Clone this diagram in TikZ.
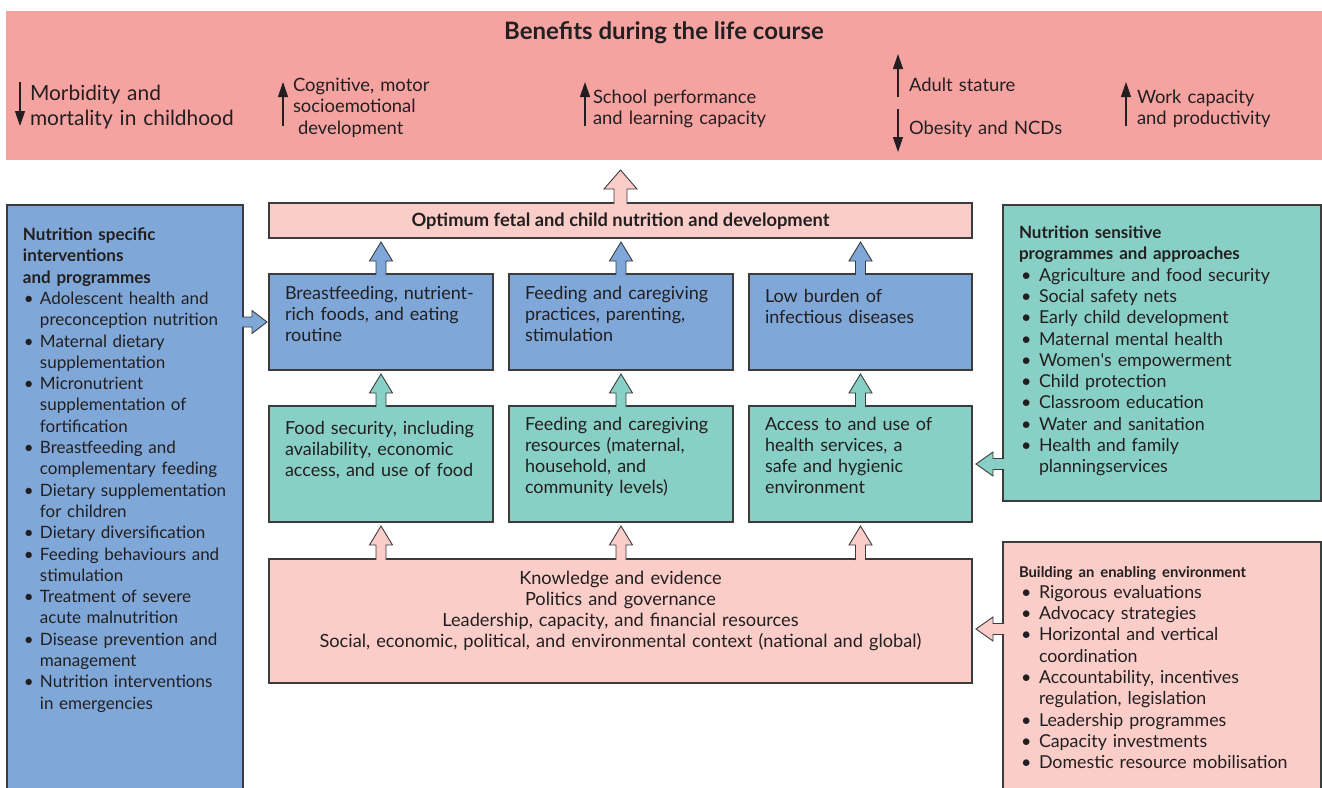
\documentclass[tikz,border=0pt]{standalone}
\usepackage{fontspec}
\setmainfont{Lato}
\usetikzlibrary{calc,arrows.meta}
\definecolor{bannerpink}{HTML}{F5A3A1}
\definecolor{lightpink}{HTML}{FACDC8}
\definecolor{boxblue}{HTML}{7FA7D8}
\definecolor{boxteal}{HTML}{88D0C5}
\definecolor{ink}{HTML}{231F20}
\definecolor{edge}{HTML}{3C3C3C}
% #1 fill, #2 lower anchor, #3 upper anchor, #4 half head width, #5 half shaft width, #6 gap
\newcommand\blkup[6]{%
  \filldraw[arr, fill=#1] let \p1=(#2), \p2=(#3) in
   (\x1-#5pt,\y1-1pt) -- (\x1-#5pt,\y2-#6pt-19pt) -- (\x1-#4pt,\y2-#6pt-19pt) -- (\x1,\y2-#6pt)
   -- (\x1+#4pt,\y2-#6pt-19pt) -- (\x1+#5pt,\y2-#6pt-19pt) -- (\x1+#5pt,\y1-1pt);}
% #1 fill, #2 start anchor, #3 target anchor, #4 half head, #5 half shaft, #6 gap, #7 head length
\newcommand\blkright[7]{%
  \filldraw[arr, fill=#1] let \p1=(#2), \p2=(#3) in
   (\x1-1pt,\y1+#5pt) -- (\x2-#6pt-#7pt,\y1+#5pt) -- (\x2-#6pt-#7pt,\y1+#4pt) -- (\x2-#6pt,\y1)
   -- (\x2-#6pt-#7pt,\y1-#4pt) -- (\x2-#6pt-#7pt,\y1-#5pt) -- (\x1-1pt,\y1-#5pt);}
\newcommand\blkleft[7]{%
  \filldraw[arr, fill=#1] let \p1=(#2), \p2=(#3) in
   (\x1+1pt,\y1+#5pt) -- (\x2+#6pt+#7pt,\y1+#5pt) -- (\x2+#6pt+#7pt,\y1+#4pt) -- (\x2+#6pt,\y1)
   -- (\x2+#6pt+#7pt,\y1-#4pt) -- (\x2+#6pt+#7pt,\y1-#5pt) -- (\x1+1pt,\y1-#5pt);}
\newlength\itind \setlength\itind{17pt}
\newlength\bulind \setlength\bulind{1pt}
\newcommand\litem[1]{\par\hangindent=\itind\hangafter=1\noindent\makebox[\itind][l]{\hspace{\bulind}\textbullet}#1}
\begin{document}
\begin{tikzpicture}[x=1pt,y=-1pt,
  every node/.style={text=ink, inner sep=0pt, outer sep=0pt},
  font=\fontsize{17}{21.3}\selectfont,
  panel/.style={draw=edge, line width=1.1pt, inner sep=0pt, outer sep=0pt},
  arr/.style={draw=edge, line width=0.9pt, line join=miter},
  txt/.style={anchor=base west, align=left, text width=#1},
  benarrow/.style={draw=ink, line width=1.2pt, -{Triangle[length=15pt,width=10pt]}},
  bigfont/.style={font=\fontsize{20.9}{25}\selectfont},
  midfont/.style={font=\fontsize{18.4}{21.5}\selectfont},
  boxfont/.style={font=\fontsize{18}{21.2}\selectfont},
  sidefont/.style={font=\fontsize{17.8}{21.3}\selectfont}]
\useasboundingbox (0,0) rectangle (1322,787);

% banner
\node[fill=bannerpink, minimum width=1316pt, minimum height=149pt] (ban) at (664,85.5) {};
\node[font=\bfseries\fontsize{24}{28}\selectfont] (title) at (664,33) {Benefits during the life course};

\coordinate (a1s) at (20,82);  \coordinate (a1e) at (20,126);
\coordinate (a2s) at (283,126); \coordinate (a2e) at (283,82);
\coordinate (a3s) at (585,126); \coordinate (a3e) at (585,82);
\coordinate (a4s) at (898,97);  \coordinate (a4e) at (898,54);
\coordinate (a5s) at (898,109); \coordinate (a5e) at (898,152);
\coordinate (a6s) at (1126,126); \coordinate (a6e) at (1126,82);
\foreach \s/\e in {a1s/a1e,a2s/a2e,a3s/a3e,a4s/a4e,a5s/a5e,a6s/a6e}
  \draw[benarrow] (\s) -- (\e);

\node[txt=230pt, bigfont] (ben1) at (30,100.5) {Morbidity and\\mortality in childhood};
\node[txt=200pt, midfont] (ben2) at (293,91) {Cognitive, motor\\socioemotional\\\hspace*{5pt}development};
\node[txt=220pt, midfont] (ben3) at (593,103) {School performance\\and learning capacity};
\node[txt=200pt, midfont] (ben4) at (909,91) {Adult stature};
\node[txt=200pt, midfont] (ben5) at (909,134) {Obesity and NCDs};
\node[txt=200pt, midfont] (ben6) at (1137,103) {Work capacity\\and productivity};

% central column
\node[panel, fill=lightpink, minimum width=703pt, minimum height=35pt] (opt) at (620.5,220.5) {};
\node[font=\bfseries\fontsize{18.3}{21}\selectfont] at ([yshift=-1pt]opt) {Optimum fetal and child nutrition and development};

\node[panel, fill=boxblue, minimum width=224pt, minimum height=96pt] (b1) at (381,322) {};
\node[panel, fill=boxblue, minimum width=224pt, minimum height=96pt] (b2) at (621,322) {};
\node[panel, fill=boxblue, minimum width=223pt, minimum height=96pt] (b3) at (860.5,322) {};
\node[panel, fill=boxteal, minimum width=224pt, minimum height=116pt] (t1) at (381,464) {};
\node[panel, fill=boxteal, minimum width=224pt, minimum height=116pt] (t2) at (621,464) {};
\node[panel, fill=boxteal, minimum width=223pt, minimum height=116pt] (t3) at (860.5,464) {};
\node[panel, fill=lightpink, minimum width=703pt, minimum height=124pt] (env) at (620.5,621) {};

\node[txt=205pt, boxfont] at (285,299.5) {Breastfeeding, nutrient-\\rich foods, and eating\\routine};
\node[txt=205pt, boxfont] at (525,299.5) {Feeding and caregiving\\practices, parenting,\\stimulation};
\node[txt=205pt, boxfont] at (765,302) {Low burden of\\infectious diseases};
\node[txt=205pt, boxfont] at (285,434) {Food security, including\\availability, economic\\access, and use of food};
\node[txt=205pt, boxfont] at (525,430) {Feeding and caregiving\\resources (maternal,\\household, and\\community levels)};
\node[txt=205pt, boxfont] at (765,430) {Access to and use of\\health services, a\\safe and hygienic\\environment};
\node[anchor=base, align=center, text width=700pt, font=\fontsize{18.2}{21.3}\selectfont] at (620.5,584) {Knowledge and evidence\\Politics and governance\\Leadership, capacity, and financial resources\\Social, economic, political, and environmental context (national and global)};

% side panels
\node[panel, fill=boxblue, minimum width=236pt, minimum height=600pt] (lp) at (125,505) {};
\node[panel, fill=boxteal, minimum width=318pt, minimum height=296pt] (rp1) at (1162,353) {};
\node[panel, fill=lightpink, minimum width=318pt, minimum height=262pt] (rp2) at (1162,673) {};

\node[txt=215pt] at (23,240.5) {{\bfseries Nutrition specific\\interventions\\and programmes\par}%
\litem{Adolescent health and\newline preconception nutrition}%
\litem{Maternal dietary\newline supplementation}%
\litem{Micronutrient\newline supplementation of\newline fortification}%
\litem{Breastfeeding and\newline complementary feeding}%
\litem{Dietary supplementation\newline for children}%
\litem{Dietary diversification}%
\litem{Feeding behaviours and\newline stimulation}%
\litem{Treatment of severe\newline acute malnutrition}%
\litem{Disease prevention and\newline management}%
\litem{Nutrition interventions\newline in emergencies}\par};

\node[txt=295pt, sidefont] at (1019,238.5) {\setlength\itind{20pt}\setlength\bulind{2pt}%
{\bfseries\fontsize{17}{21.3}\selectfont Nutrition sensitive\\programmes and approaches\par}%
\litem{Agriculture and food security}%
\litem{Social safety nets}%
\litem{Early child development}%
\litem{Maternal mental health}%
\litem{Women\textquotesingle s empowerment}%
\litem{Child protection}%
\litem{Classroom education}%
\litem{Water and sanitation}%
\litem{Health and family\newline planningservices}\par};

\node[txt=295pt, sidefont] at (1019,577) {\setlength\itind{20pt}\setlength\bulind{2pt}%
{\bfseries\fontsize{14.8}{17}\selectfont Building an enabling environment\par}%
\litem{Rigorous evaluations}%
\litem{Advocacy strategies}%
\litem{Horizontal and vertical\newline coordination}%
\litem{Accountability, incentives\newline regulation, legislation}%
\litem{Leadership programmes}%
\litem{Capacity investments}%
\litem{Domestic resource mobilisation}\par};

% block arrows
\blkup{lightpink}{opt.north}{ban.south}{16.5}{6.5}{10}
\foreach \lo/\hi in {b1/opt, b2/opt, b3/opt}
  {\blkup{boxblue}{\lo.north}{\hi.south}{11.5}{5}{4}}
\foreach \lo/\hi in {t1/b1, t2/b2, t3/b3}
  {\blkup{boxteal}{\lo.north}{\hi.south}{11.5}{5}{4}}
\foreach \hi in {t1, t2, t3}
  {\blkup{lightpink}{env.north -| \hi.south}{\hi.south}{11.5}{5}{4}}
\blkright{boxblue}{lp.east |- b1.west}{b1.west}{11.5}{5}{2}{15}
\blkleft{boxteal}{rp1.west |- t3.east}{t3.east}{12}{5.5}{4}{17}
\coordinate (envr) at ($(env.east)+(0,8)$);
\blkleft{lightpink}{rp2.west |- envr}{envr}{12}{5.5}{4}{17}
\end{tikzpicture}
\end{document}
